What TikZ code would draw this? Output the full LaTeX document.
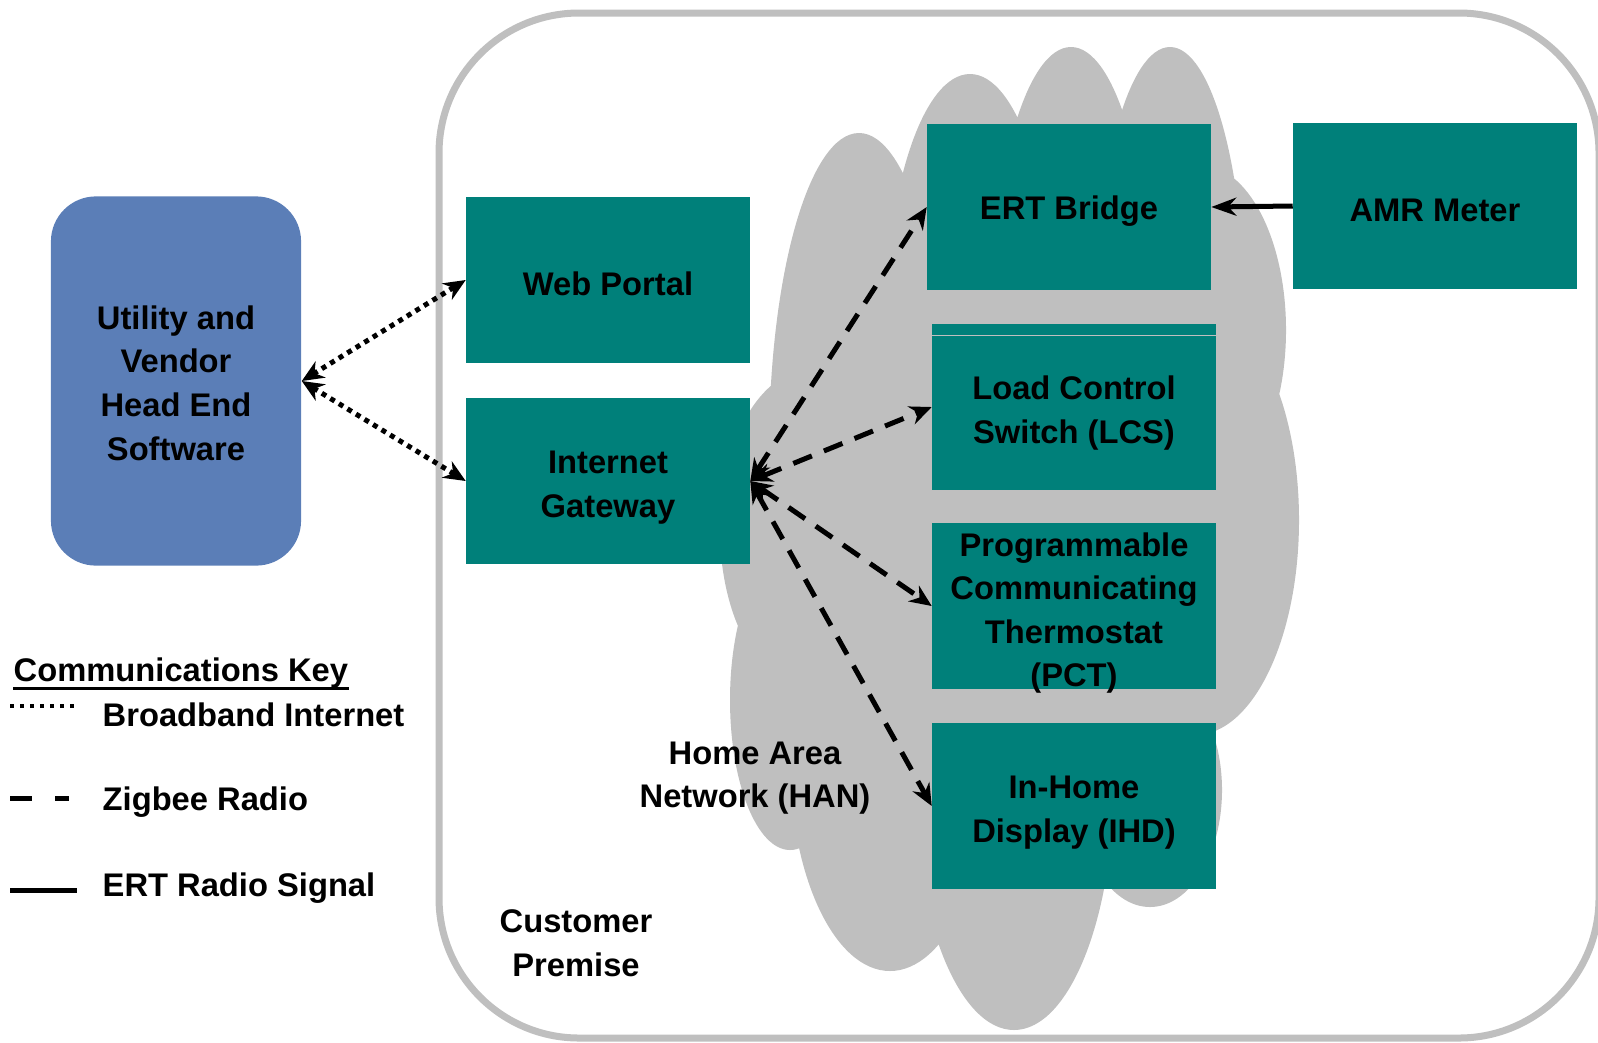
\documentclass[tikz,border=0pt]{standalone}
\usepackage{fontspec}
\setmainfont{Liberation Sans}
\usetikzlibrary{arrows.meta}
\definecolor{verdeazul}{RGB}{0,128,122}
\definecolor{azulutil}{RGB}{91,126,183}
\definecolor{grisnube}{RGB}{191,191,191}
\newcommand{\sube}{\rule{0pt}{1.1em}}

\begin{document}
\begin{tikzpicture}[x=0.01cm, y=-0.01cm,
    font=\fontsize{9.3}{12.4}\selectfont\bfseries,
    caja/.style={fill=verdeazul, minimum width=2.83cm, minimum height=1.66cm, inner sep=0pt, align=center},
    unalinea/.style={execute at begin node={\rule{0pt}{0.95em}}},
    internet/.style={line width=0.05cm, dash pattern=on 0.05cm off 0.05cm, {Stealth[length=0.22cm,width=0.19cm]}-{Stealth[length=0.22cm,width=0.19cm]}},
    zigbee/.style={line width=0.05cm, dash pattern=on 0.2cm off 0.13cm, {Stealth[length=0.22cm,width=0.19cm]}-{Stealth[length=0.22cm,width=0.19cm]}},
    ertradio/.style={line width=0.05cm, -{Stealth[length=0.25cm,width=0.18cm]}}]
    \useasboundingbox (0,0) rectangle (1598,1042);
    %premisa
    \draw[grisnube, line width=0.07cm, rounded corners=1.4cm] (439,13) rectangle (1599,1038);
    %%%% NUBE HAN!!!
    \fill[grisnube] (859,450) ellipse [x radius=90, y radius=317]
        (970,330) ellipse [x radius=85, y radius=256]
        (1071,320) ellipse [x radius=80, y radius=273]
        (1170,320) ellipse [x radius=75, y radius=273]
        (1200,330) ellipse [x radius=86, y radius=165]
        (1195,520) ellipse [x radius=104, y radius=215]
        (1150,790) ellipse [x radius=72, y radius=117]
        (1014,780) ellipse [x radius=100, y radius=250]
        (890,760) ellipse [x radius=100, y radius=211]
        (790,700) ellipse [x radius=60, y radius=150]
        (810,530) ellipse [x radius=90, y radius=160]
        (1010,520) ellipse [x radius=200, y radius=350];
    %cajas
    \node[caja, fill=azulutil, rounded corners=0.45cm, minimum width=2.5cm, minimum height=3.69cm] at (176,381) (utility) {\rule{0pt}{0.85em}Utility and\\Vendor\\Head End\\Software};
    \node[caja, unalinea] at (608,280) (web) {Web Portal};
    \node[caja] at (608,481) (gw) {\sube Internet\\Gateway};
    \node[caja, unalinea] at (1069,207) (ert) {ERT Bridge};
    \node[caja, unalinea] at (1435,206) (amr) {AMR Meter};
    \node[caja] at (1074,407) (lcs) {\sube Load Control\\Switch (LCS)};
    \draw[grisnube, line width=0.01cm] ([yshift=-0.12cm]lcs.north west) -- ([yshift=-0.12cm]lcs.north east);
    \node[caja] at (1074,606) (pct) {\rule{0pt}{0.95em}Programmable\\Communicating\\Thermostat\\\smash{(PCT)}};
    \node[caja] at (1074,806) (ihd) {\sube In-Home\\Display (IHD)};
    \node[align=center] at (755,778) (han) {Home Area\\Network (HAN)};
    \node[align=center] at (576,943) (premisa) {Customer\\Premise};
    %%%% FLECHAS!!!
    \draw[internet] (utility.east) -- (web.west);
    \draw[internet] (utility.east) -- (gw.west);
    \draw[zigbee] (gw.east) -- (ert.west);
    \draw[zigbee] (gw.east) -- (lcs.west);
    \draw[zigbee] (gw.east) -- (pct.west);
    \draw[zigbee] (gw.east) -- (ihd.west);
    \draw[ertradio] (amr.west) -- (ert.east);
    %clave
    \node[anchor=base west, inner sep=0pt] at (13,681) (clave) {Communications Key};
    \draw[line width=0.03cm] (clave.south west) -- (clave.south east);
    \draw[line width=0.04cm, dash pattern=on 0.04cm off 0.06cm] (10,706) -- (77,706);
    \node[anchor=base west, inner sep=0pt] at (102,726) (broadband) {Broadband Internet};
    \draw[line width=0.05cm, dash pattern=on 0.22cm off 0.23cm] (10,798) -- (69,798);
    \node[anchor=base west, inner sep=0pt] at (102,810) (zigbeetxt) {Zigbee Radio};
    \draw[line width=0.05cm] (10,890) -- (77,890);
    \node[anchor=base west, inner sep=0pt] at (102,896) (erttxt) {ERT Radio Signal};
\end{tikzpicture}
\end{document}
